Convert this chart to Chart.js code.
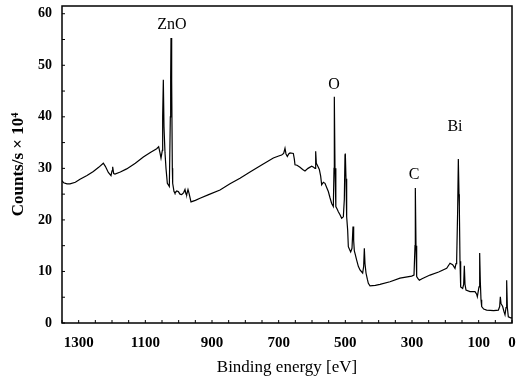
<!DOCTYPE html>
<html>
<head>
<meta charset="utf-8">
<script src="https://cdn.jsdelivr.net/npm/chart.js@4/dist/chart.umd.min.js"></script>
<style>
html,body{margin:0;padding:0;background:#fff;}
canvas{display:block;}
</style>
</head>
<body>
<canvas id="c" width="524" height="381"></canvas>
<script>
// Binding energy (eV) and counts/s (x10^4)
const energies = [1350,1345,1335,1326,1310,1296,1275,1256,1240,1226,1220,1211,1203,1200,1198,1195,1191,1175,1156,1130,1106,1085,1066,1060,1056,1053,1049,1048,1046,1044,1041,1038,1034,1028,1025,1024,1023,1021,1019,1018,1014,1011,1006,1001,996,991,985,981,978,976,972,969,963,950,936,910,876,846,816,786,750,716,700,691,685,681,678,674,670,666,656,653,651,645,636,628,621,612,601,595,591,589,587,584,578,574,571,566,561,556,551,546,541,536,534,533,531,529,528,524,521,516,511,506,503,501,500,498,496,493,491,487,484,480,477,475,473,471,466,461,456,448,445,443,441,438,434,431,426,410,396,366,336,301,294,291,290,288,286,282,278,270,246,220,196,188,186,178,171,168,166,163,161,159,158,156,154,148,145,143,141,138,126,111,106,104,99,97,95,93,91,85,76,55,41,37,35,33,28,24,21,18,16,14,11,4,0];
const counts = [27.6,27.2,27.0,27.0,27.3,27.9,28.6,29.4,30.2,31.0,30.4,29.2,28.6,29.5,30.3,29.0,28.9,29.3,29.9,31.0,32.2,33.1,33.8,34.2,33.0,32.0,33.5,40.0,47.2,38.0,33.0,30.0,27.1,26.5,40.0,47.5,55.3,47.0,30.0,27.1,25.5,25.2,25.6,25.5,25.0,24.9,25.3,25.9,25.0,24.9,25.9,25.2,23.5,23.8,24.2,24.9,25.8,27.0,28.1,29.3,30.7,32.0,32.4,32.6,32.9,33.9,32.8,32.3,32.8,33.0,32.9,31.8,30.7,30.6,30.2,29.8,29.5,30.0,30.4,30.2,30.0,33.3,31.0,30.6,29.8,28.5,26.8,27.3,27.1,26.3,25.5,24.3,23.2,22.6,30.0,43.9,30.0,23.5,22.6,22.0,21.6,21.0,20.3,20.6,24.0,32.6,32.9,28.0,20.6,18.0,14.8,14.2,13.8,14.5,18.7,16.0,14.0,13.5,12.2,11.0,10.3,9.7,11.0,14.5,11.5,9.7,8.5,7.7,7.2,7.3,7.5,8.0,8.7,9.1,9.3,15.0,26.2,15.0,9.0,8.6,8.3,8.6,9.3,9.9,10.6,11.4,11.6,11.3,10.6,11.5,12.2,22.0,31.8,25.0,22.6,12.0,7.0,6.7,7.5,11.1,7.5,6.4,6.1,6.1,5.6,5.1,7.0,13.6,8.0,4.5,3.2,2.7,2.5,2.4,2.5,3.2,5.1,3.8,3.2,2.2,1.6,3.0,8.3,3.0,1.2,1.0,1.0];

const xTickLabels = [1300,1100,900,700,500,300,100,0];
const yTickLabels = [0,10,20,30,40,50,60];

// Peak labels: text, energy, counts position
const peakNames = ['ZnO','O','C','Bi'];
const peakEnergies = [1020,534,294,171];
const peakLabelY = [57.9,46.2,28.7,38.1];

const xTitle = 'Binding energy [eV]';
const yTitle = 'Counts/s \u00d7 10\u2074';

const points = energies.map((e,i)=>({x:e,y:counts[i]}));

const frameAndTicks = {
  id:'frameAndTicks',
  afterDraw(chart){
    const {ctx, chartArea:a, scales} = chart;
    ctx.save();
    ctx.strokeStyle = '#000';
    ctx.lineWidth = 1.5;
    ctx.strokeRect(a.left, a.top, a.right-a.left, a.bottom-a.top);
    ctx.lineWidth = 1;
    ctx.beginPath();
    scales.x.ticks.forEach(t=>{
      if (t.value % 50 !== 0) return;
      const px = scales.x.getPixelForValue(t.value);
      ctx.moveTo(px, a.bottom); ctx.lineTo(px, a.bottom-3);
    });
    scales.y.ticks.forEach(t=>{
      if (t.value % 5 !== 0) return;
      const py = scales.y.getPixelForValue(t.value);
      ctx.moveTo(a.left, py); ctx.lineTo(a.left+3, py);
    });
    ctx.stroke();
    // peak labels
    ctx.fillStyle = '#000';
    ctx.font = '16px "Liberation Serif", serif';
    ctx.textAlign = 'center';
    ctx.textBaseline = 'middle';
    peakNames.forEach((n,i)=>{
      ctx.fillText(n, scales.x.getPixelForValue(peakEnergies[i]), scales.y.getPixelForValue(peakLabelY[i]));
    });
    ctx.restore();
  }
};

new Chart(document.getElementById('c'), {
  type:'line',
  data:{datasets:[{data:points, borderColor:'#000', borderWidth:1.2, pointRadius:0, tension:0, fill:false}]},
  options:{
    responsive:false,
    animation:false,
    devicePixelRatio:1,
    layout:{padding:{left:0,right:12,top:6,bottom:0}},
    plugins:{legend:{display:false}, tooltip:{enabled:false}},
    scales:{
      x:{
        type:'linear', reverse:true, min:0, max:1350,
        grid:{display:false, drawTicks:false},
        border:{display:false},
        ticks:{
          stepSize:50, autoSkip:false, maxRotation:0, padding:11, includeBounds:false,
          color:'#000', font:{family:'"Liberation Serif", serif', size:15, weight:'bold'},
          callback:(v)=> xTickLabels.includes(v) ? String(v) : ''
        },
        title:{display:true, text:xTitle, color:'#000', font:{family:'"Liberation Serif", serif', size:17}, padding:{top:0,bottom:3}},
        afterFit(s){ s.height = 58; s.paddingLeft = 0; s.paddingRight = 0; }
      },
      y:{
        type:'linear', min:0, max:61.5,
        grid:{display:false, drawTicks:false},
        border:{display:false},
        ticks:{
          stepSize:5, autoSkip:false, padding:10, includeBounds:false,
          color:'#000', font:{family:'"Liberation Serif", serif', size:14, weight:'bold'},
          callback:(v)=> yTickLabels.includes(v) ? String(v) : ''
        },
        title:{display:true, text:yTitle, color:'#000', font:{family:'"Liberation Serif", serif', size:17, weight:'bold'}, padding:{top:8,bottom:0}},
        afterFit(s){ s.width = 62; s.paddingTop = 0; s.paddingBottom = 0; }
      }
    }
  },
  plugins:[frameAndTicks]
});
</script>
</body>
</html>
